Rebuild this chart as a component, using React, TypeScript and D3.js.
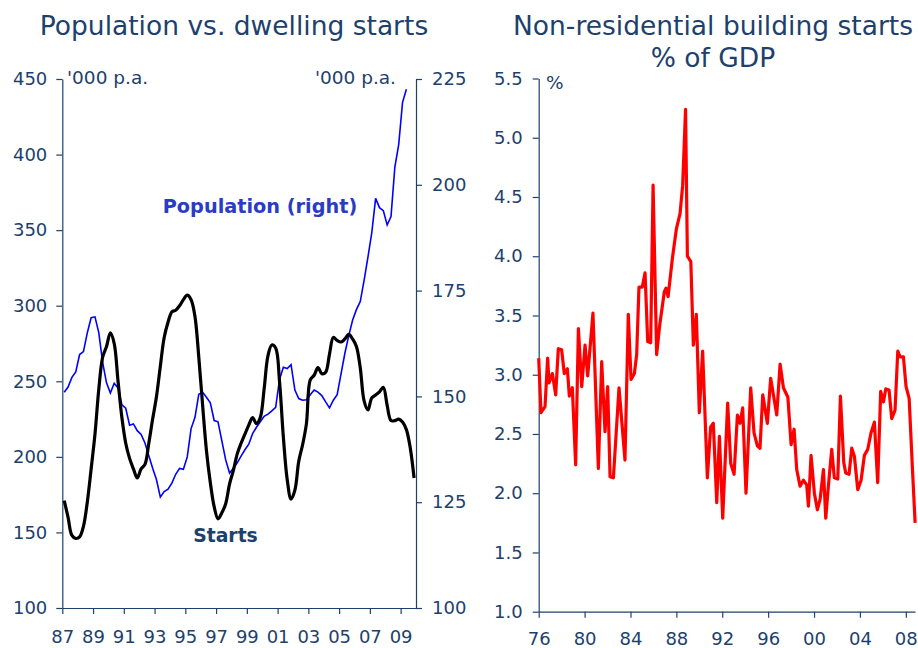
import { useEffect, useRef } from "react";
import * as d3 from "d3";

// quarterly readings, mid-quarter from 1987Q1
const startsFrom = 1987.125;
const startsValues = [
  171, 160, 148, 146, 147, 154, 170, 192, 215, 245, 266, 273, 282, 275, 250, 226,
  209, 199, 192, 186, 192, 195, 209, 225, 240, 260, 279, 289, 296, 297, 300, 304,
  307, 304, 293, 266, 234, 204, 183, 167, 159, 163, 169, 182, 191, 202, 209, 215,
  221, 226, 222, 226, 245, 267, 274, 272, 250, 213, 185, 172, 178, 197, 208, 222,
  251, 254, 259, 255, 256, 268, 279, 277, 276, 278, 281, 278, 273, 259, 237, 231,
  239, 241, 243, 246, 234, 224, 224, 225, 223, 218, 206, 186,
];

const populationFrom = 1987.125;
const populationValues = [
  151, 152.2, 154.5, 155.8, 159.9, 160.6, 165, 168.6, 168.8, 165, 158, 153.2,
  150.8, 153.1, 152, 148, 147.2, 143.2, 143.5, 141.9, 141, 139, 136, 133,
  130.3, 126.2, 127.5, 128.1, 129.5, 131.6, 133, 132.8, 135.7, 142.4, 145, 150.5,
  151, 149.8, 148.5, 144.3, 144, 139.5, 135, 131.9, 133, 134.3, 135.9, 137.4,
  138.7, 141.2, 142.7, 144, 145.3, 145.8, 146.6, 147.4, 154, 156.9, 156.6, 157.5,
  151.5, 149.5, 149.1, 149.2, 150.4, 151.5, 151, 150.2, 148.7, 147.3, 149.1, 150.4,
  155.3, 160.2, 164.3, 168, 170.5, 172.4, 177.4, 182.9, 188.7, 196.8, 194.6, 193.9,
  190.5, 192.5, 204.2, 209.5, 219.5, 222.6,
];

const leftTicksYears = d3.range(1987, 2010, 2);
const leftTicks = [100, 150, 200, 250, 300, 350, 400, 450];
const rightTicks = [100, 125, 150, 175, 200, 225];

// non-residential starts, % of GDP
const nonResYears = [
  1976.0, 1976.2, 1976.55, 1976.78, 1976.9, 1977.19, 1977.48, 1977.71, 1978.0, 1978.23,
  1978.5, 1978.67, 1978.93, 1979.22, 1979.46, 1979.75, 1980.04, 1980.27, 1980.73, 1981.2,
  1981.49, 1981.78, 1982.01, 1982.22, 1982.51, 1983.0, 1983.52, 1983.81, 1984.05, 1984.34,
  1984.54, 1984.74, 1985.03, 1985.27, 1985.5, 1985.76, 1985.97, 1986.28, 1986.55, 1986.95,
  1987.1, 1987.28, 1987.65, 1988.0, 1988.32, 1988.55, 1988.8, 1988.96, 1989.26, 1989.48,
  1989.74, 1990.0, 1990.29, 1990.7, 1990.99, 1991.22, 1991.52, 1991.75, 1992.04, 1992.47,
  1992.74, 1993.03, 1993.32, 1993.55, 1993.78, 1994.07, 1994.48, 1994.77, 1995.06, 1995.29,
  1995.53, 1995.93, 1996.22, 1996.75, 1997.04, 1997.33, 1997.72, 1998.0, 1998.26, 1998.49,
  1998.78, 1999.07, 1999.36, 1999.51, 1999.74, 2000.03, 2000.29, 2000.53, 2000.82, 2001.02,
  2001.25, 2001.54, 2001.77, 2002.07, 2002.3, 2002.59, 2002.76, 2003.05, 2003.29, 2003.52,
  2003.81, 2004.1, 2004.39, 2004.68, 2004.97, 2005.26, 2005.55, 2005.81, 2006.05, 2006.25,
  2006.54, 2006.77, 2007.06, 2007.3, 2007.5, 2007.79, 2008.02, 2008.29, 2008.58, 2008.81,
];
const nonResValues = [
  3.14, 2.68, 2.73, 3.14, 2.93, 3.01, 2.83, 3.22, 3.21, 3.01,
  3.05, 2.82, 2.89, 2.24, 3.39, 2.9, 3.25, 2.99, 3.52, 2.21,
  3.11, 2.52, 2.9, 2.14, 2.13, 2.89, 2.28, 3.51, 2.96, 3.01,
  3.17, 3.74, 3.74, 3.86, 3.28, 3.27, 4.6, 3.17, 3.42, 3.7,
  3.73, 3.66, 3.98, 4.23, 4.36, 4.6, 5.24, 4.0, 3.955, 3.25,
  3.51, 2.68, 3.2, 2.13, 2.56, 2.59, 1.92, 2.48, 1.79, 2.76,
  2.25, 2.16, 2.66, 2.59, 2.72, 2.0, 2.89, 2.51, 2.4, 2.38,
  2.83, 2.59, 2.97, 2.66, 3.09, 2.89, 2.81, 2.41, 2.54, 2.2,
  2.06, 2.11, 2.07, 1.89, 2.32, 2.0, 1.86, 1.95, 2.2, 1.79,
  2.06, 2.37, 2.13, 2.12, 2.82, 2.26, 2.17, 2.16, 2.38, 2.31,
  2.03, 2.11, 2.32, 2.37, 2.51, 2.6, 2.09, 2.86, 2.77, 2.88,
  2.87, 2.63, 2.7, 3.2, 3.15, 3.15, 2.9, 2.8, 2.2, 1.75,
];
const nonResTickYears = d3.range(1976, 2009, 4);
const nonResTicks = [1.0, 1.5, 2.0, 2.5, 3.0, 3.5, 4.0, 4.5, 5.0, 5.5];

const NAVY = "#1d416c";
const FONT = "'DejaVu Sans', Verdana, sans-serif";

function styleAxis(g: d3.Selection<SVGGElement, unknown, null, undefined>) {
  g.attr("font-family", FONT).attr("font-size", 18);
  g.select(".domain").attr("stroke", NAVY).attr("stroke-width", 1.2);
  g.selectAll(".tick line").attr("stroke", NAVY).attr("stroke-width", 1.2);
  g.selectAll(".tick text").attr("fill", NAVY);
}

export default function App() {
  const svgRef = useRef<SVGSVGElement>(null);

  useEffect(() => {
    if (!svgRef.current) return;
    const svg = d3.select(svgRef.current);
    svg.selectAll("*").remove();

    // ---------- left chart ----------
    const xL = d3.scaleLinear().domain([1987, 2010]).range([62.3, 416]);
    const yL = d3.scaleLinear().domain([100, 450]).range([608, 79]);
    const yR = d3.scaleLinear().domain([100, 225]).range([608, 79]);

    const fmtYr = (d: d3.NumberValue) => String(Number(d) % 100).padStart(2, "0");

    svg
      .append("g")
      .attr("transform", `translate(0,${yL(100)})`)
      .call(
        d3.axisBottom(xL).tickValues(leftTicksYears).tickFormat(fmtYr).tickSize(6).tickPadding(16).tickSizeOuter(0)
      )
      .call(styleAxis);

    svg
      .append("g")
      .attr("transform", `translate(${xL(1987)},0)`)
      .call(d3.axisLeft(yL).tickValues(leftTicks).tickSize(6).tickPadding(9).tickSizeOuter(0))
      .call(styleAxis);

    svg
      .append("g")
      .attr("transform", `translate(${xL(2010)},0)`)
      .call(d3.axisRight(yR).tickValues(rightTicks).tickSize(6).tickPadding(10).tickSizeOuter(0))
      .call(styleAxis);

    const popLine = d3
      .line<number>()
      .x((_, i) => xL(populationFrom + i * 0.25))
      .y((d) => yR(d));
    svg
      .append("path")
      .datum(populationValues)
      .attr("d", popLine)
      .attr("fill", "none")
      .attr("stroke", "#0000ff")
      .attr("stroke-width", 1.6);

    const startsLine = d3
      .line<number>()
      .x((_, i) => xL(startsFrom + i * 0.25))
      .y((d) => yL(d))
      .curve(d3.curveCatmullRom.alpha(0.5));
    svg
      .append("path")
      .datum(startsValues)
      .attr("d", startsLine)
      .attr("fill", "none")
      .attr("stroke", "#000000")
      .attr("stroke-width", 3.2)
      .attr("stroke-linejoin", "round");

    const txt = (x: number, y: number, s: string, opts: Record<string, string | number> = {}) => {
      const t = svg
        .append("text")
        .attr("x", x)
        .attr("y", y)
        .attr("font-family", FONT)
        .attr("font-size", 18.5)
        .attr("fill", NAVY)
        .text(s);
      Object.entries(opts).forEach(([k, v]) => t.attr(k, v));
      return t;
    };

    txt(234, 35, "Population vs. dwelling starts", { "text-anchor": "middle", "font-size": 26.5 });
    txt(67, 84, "'000 p.a.");
    txt(396, 84, "'000 p.a.", { "text-anchor": "end" });
    txt(260, 213, "Population (right)", {
      "text-anchor": "middle",
      "font-weight": "bold",
      "font-size": 19.3,
      fill: "#2b3cc4",
    });
    txt(225.5, 542, "Starts", { "text-anchor": "middle", "font-weight": "bold", "font-size": 18.8 });

    // ---------- right chart ----------
    const xN = d3.scaleLinear().domain([1976, 2008.8]).range([538.7, 915]);
    const yN = d3.scaleLinear().domain([1, 5.5]).range([611.7, 78.5]);

    svg
      .append("g")
      .attr("transform", `translate(0,${yN(1)})`)
      .call(
        d3.axisBottom(xN).tickValues(nonResTickYears).tickFormat(fmtYr).tickSize(6).tickPadding(15).tickSizeOuter(0)
      )
      .call(styleAxis);

    svg
      .append("g")
      .attr("transform", `translate(${xN(1976)},0)`)
      .call(
        d3.axisLeft(yN).tickValues(nonResTicks).tickFormat(d3.format(".1f")).tickSize(6).tickPadding(10).tickSizeOuter(0)
      )
      .call(styleAxis);

    const nonResLine = d3
      .line<number>()
      .x((_, i) => xN(nonResYears[i]))
      .y((d) => yN(d));
    svg
      .append("path")
      .datum(nonResValues)
      .attr("d", nonResLine)
      .attr("fill", "none")
      .attr("stroke", "#ff0000")
      .attr("stroke-width", 3.2)
      .attr("stroke-linejoin", "round");

    txt(713, 35, "Non-residential building starts", { "text-anchor": "middle", "font-size": 26.5 });
    txt(713, 67, "% of GDP", { "text-anchor": "middle", "font-size": 26.5 });
    txt(546, 89, "%");
  }, []);

  return (
    <svg
      ref={svgRef}
      width={918}
      height={648}
      style={{ position: "absolute", left: 0, top: 0, background: "#fff" }}
    />
  );
}
